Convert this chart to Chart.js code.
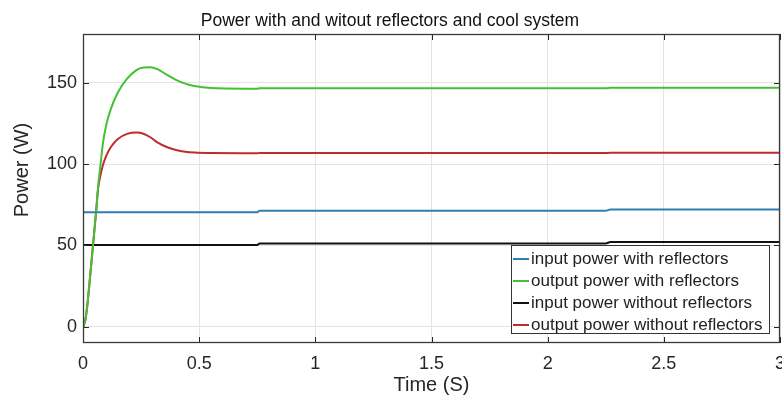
<!DOCTYPE html>
<html>
<head>
<meta charset="utf-8">
<script src="https://cdn.jsdelivr.net/npm/chart.js@4"></script>
<style>
  html, body { margin: 0; padding: 0; background: #fff; }
  #wrap { width: 782px; height: 400px; }
</style>
</head>
<body>
<div id="wrap"><canvas id="chart" width="782" height="400"></canvas></div>
<script>
// time axis (s) for the output curves
const tOutput = [0, 0.01, 0.02, 0.03, 0.043, 0.056, 0.065, 0.075, 0.085, 0.1, 0.12, 0.15, 0.19, 0.23, 0.26, 0.29, 0.32, 0.36, 0.4, 0.44, 0.48, 0.55, 0.7, 0.75, 0.76, 1.5, 2.25, 2.27, 3];
const outWithRefl = [0, 4, 15, 30, 50, 70, 86, 99, 112, 124, 134, 144, 152.5, 157.8, 159.4, 159.6, 158.4, 155, 151.8, 149.5, 148, 146.8, 146.4, 146.4, 146.6, 146.6, 146.6, 146.9, 147];
const outWithoutRefl = [0, 4, 15, 30, 50, 70, 85, 93, 99, 105, 110.5, 115.5, 118.6, 119.4, 118.7, 116.5, 113.3, 110.5, 108.7, 107.6, 107.1, 106.8, 106.7, 106.7, 106.8, 106.8, 106.8, 107, 107];

// time axis (s) for the input curves (small steps at 0.75 s and 2.25 s)
const tInput = [0, 0.75, 0.76, 2.25, 2.27, 3];
const inWithRefl = [70.4, 70.4, 71.3, 71.3, 72.1, 72.1];
const inWithoutRefl = [50.2, 50.2, 51.2, 51.2, 52.1, 52.1];

const seriesNames = [
  "input power with reflectors",
  "output power with reflectors",
  "input power without reflectors",
  "output power without reflectors",
];
const seriesColors = ["#2f7fae", "#45bf36", "#111111", "#c02b2d"];

const xTicks = [0, 0.5, 1, 1.5, 2, 2.5, 3];
const yTicks = [0, 50, 100, 150];

const FONT = "'Liberation Sans', Arial, sans-serif";
const AXIS_COLOR = "#262626";

function toPoints(ts, vs) {
  const pts = [];
  for (let i = 0; i < ts.length; i++) {
    pts.push({ x: ts[i], y: vs[i] });
  }
  return pts;
}

// box, inward tick marks, y label and the legend inside the axes
const decorations = {
  id: "decorations",
  afterDatasetsDraw(chart) {
    const { ctx, chartArea: a, scales } = chart;
    ctx.save();

    // inward tick marks on all four sides
    ctx.strokeStyle = AXIS_COLOR;
    ctx.lineWidth = 1;
    ctx.beginPath();
    for (const v of xTicks) {
      const px = Math.round(scales.x.getPixelForValue(v)) + 0.5;
      ctx.moveTo(px, a.bottom); ctx.lineTo(px, a.bottom - 6);
      ctx.moveTo(px, a.top); ctx.lineTo(px, a.top + 6);
    }
    for (const v of yTicks) {
      const py = Math.round(scales.y.getPixelForValue(v)) + 0.5;
      ctx.moveTo(a.left, py); ctx.lineTo(a.left + 6, py);
      ctx.moveTo(a.right, py); ctx.lineTo(a.right - 6, py);
    }
    ctx.stroke();

    // axes box
    ctx.lineWidth = 1.3;
    ctx.strokeStyle = "#3a3a3a";
    ctx.strokeRect(a.left + 0.5, a.top + 0.5, a.right - a.left - 1, a.bottom - a.top - 1);

    // legend
    const lx = 511, ly = 245, lw = 258, lh = 88;
    ctx.fillStyle = "#fff";
    ctx.fillRect(lx, ly, lw, lh);
    ctx.lineWidth = 1;
    ctx.strokeStyle = "#333";
    ctx.strokeRect(lx + 0.5, ly + 0.5, lw, lh);
    ctx.font = "17px " + FONT;
    ctx.textBaseline = "middle";
    ctx.textAlign = "left";
    chart.data.datasets.forEach((ds, i) => {
      const cy = ly + 14 + i * 22;
      ctx.strokeStyle = ds.borderColor;
      ctx.lineWidth = 2;
      ctx.beginPath();
      ctx.moveTo(lx + 2, cy);
      ctx.lineTo(lx + 18, cy);
      ctx.stroke();
      ctx.fillStyle = "#222";
      ctx.fillText(ds.label, lx + 20, cy);
    });

    // y axis label
    ctx.translate(22, 170);
    ctx.rotate(-Math.PI / 2);
    ctx.textAlign = "center";
    ctx.fillStyle = AXIS_COLOR;
    ctx.font = "20px " + FONT;
    ctx.fillText("Power (W)", 0, 0);

    ctx.restore();
  },
};

const datasets = [
  { label: seriesNames[0], data: toPoints(tInput, inWithRefl) },
  { label: seriesNames[1], data: toPoints(tOutput, outWithRefl) },
  { label: seriesNames[2], data: toPoints(tInput, inWithoutRefl) },
  { label: seriesNames[3], data: toPoints(tOutput, outWithoutRefl) },
].map((ds, i) => ({
  ...ds,
  borderColor: seriesColors[i],
  backgroundColor: seriesColors[i],
  borderWidth: 2,
  pointRadius: 0,
  fill: false,
  cubicInterpolationMode: "monotone",
}));

new Chart(document.getElementById("chart"), {
  type: "line",
  data: { datasets: datasets },
  plugins: [decorations],
  options: {
    responsive: false,
    animation: false,
    events: [],
    layout: { padding: { left: 0, right: 2, top: 0, bottom: 0 } },
    plugins: {
      legend: { display: false },
      tooltip: { enabled: false },
      title: {
        display: true,
        text: "Power with and witout reflectors and cool system",
        color: "#111",
        font: { family: FONT, size: 17.5, weight: "normal" },
        padding: { top: 11, bottom: 2 },
      },
    },
    scales: {
      x: {
        type: "linear",
        min: 0,
        max: 3,
        afterBuildTicks: (s) => { s.ticks = xTicks.map((v) => ({ value: v })); },
        afterFit: (s) => { s.height = 57; s.paddingLeft = 0; s.paddingRight = 0; },
        ticks: {
          color: AXIS_COLOR,
          font: { family: FONT, size: 18 },
          padding: 10,
          maxRotation: 0,
          callback: (v) => String(v),
        },
        grid: { color: "#e4e4e4", drawTicks: false },
        border: { display: false },
        title: {
          display: true,
          text: "Time (S)",
          color: AXIS_COLOR,
          font: { family: FONT, size: 20 },
          padding: { top: 0, bottom: 3 },
        },
      },
      y: {
        type: "linear",
        min: -10,
        max: 180,
        afterBuildTicks: (s) => { s.ticks = yTicks.map((v) => ({ value: v })); },
        afterFit: (s) => { s.width = 83; s.paddingTop = 0; s.paddingBottom = 0; },
        ticks: {
          color: AXIS_COLOR,
          font: { family: FONT, size: 18 },
          padding: 6,
        },
        grid: { color: "#e4e4e4", drawTicks: false },
        border: { display: false },
      },
    },
  },
});
</script>
</body>
</html>
